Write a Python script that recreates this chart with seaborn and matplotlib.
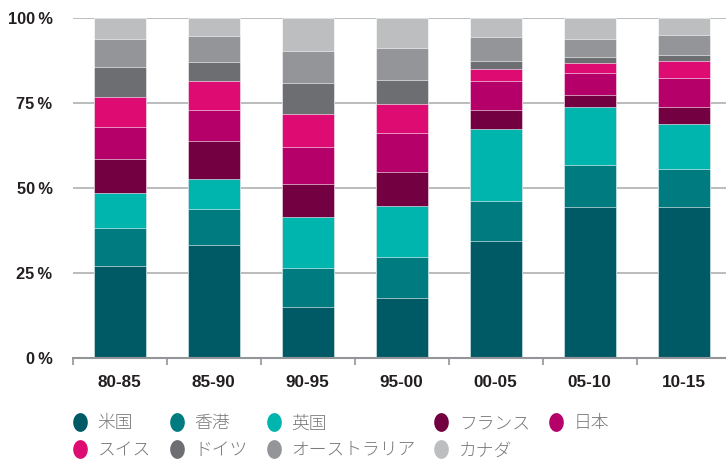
import numpy as np
import pandas as pd
import matplotlib
matplotlib.use("Agg")
import matplotlib.pyplot as plt
from matplotlib.lines import Line2D
from matplotlib.path import Path
from matplotlib.ticker import FixedLocator, FuncFormatter
import seaborn as sns

# Periods and countries
periods = ["80-85", "85-90", "90-95", "95-00", "00-05", "05-10", "10-15"]
countries = ["米国", "香港", "英国", "フランス", "日本", "スイス", "ドイツ", "オーストラリア", "カナダ"]

# Share of each country per period (%), stacked bottom to top in country order
us = [27.2, 33.4, 15.2, 17.8, 34.4, 44.6, 44.6]
hong_kong = [11.0, 10.4, 11.4, 11.9, 11.8, 12.3, 11.2]
uk = [10.4, 8.9, 15.0, 15.1, 21.3, 17.1, 13.2]
france = [9.9, 11.3, 9.6, 10.1, 5.4, 3.5, 5.0]
japan = [9.6, 8.9, 10.9, 11.3, 8.6, 6.5, 8.5]
switzerland = [8.8, 8.6, 9.7, 8.5, 3.5, 2.8, 4.9]
germany = [8.9, 5.6, 9.1, 7.2, 2.5, 1.9, 1.9]
australia = [8.1, 7.7, 9.6, 9.4, 7.1, 5.3, 5.9]
canada = [6.1, 5.2, 9.5, 8.7, 5.4, 6.0, 4.8]

y_ticks = [0, 25, 50, 75, 100]

colors = ["#005a66", "#007b80", "#00b5ad", "#730040", "#b5006a",
          "#de0b72", "#6d6e71", "#939598", "#bcbec0"]

series = [us, hong_kong, uk, france, japan, switzerland, germany, australia, canada]
df = pd.DataFrame(
    [(p, c, v[i]) for c, v in zip(countries, series) for i, p in enumerate(periods)],
    columns=["period", "country", "share"],
)
df["country"] = pd.Categorical(df["country"], categories=countries, ordered=True)
df = df.sort_values(["period", "country"])
df["cum"] = df.groupby("period", observed=True)["share"].cumsum()

sns.set_theme(style="white")
plt.rcParams["font.family"] = ["Liberation Sans", "Noto Sans CJK JP", "DejaVu Sans"]

fig = plt.figure(figsize=(7.26, 4.61), dpi=100)
ax = fig.add_axes([0.1, 0.2228, 0.9, 0.7375])

# Draw cumulative totals from the top layer down so each layer covers the previous
for country, color in reversed(list(zip(countries, colors))):
    sub = df[df["country"] == country]
    sns.barplot(data=sub, x="period", y="cum", order=periods, color=color,
                saturation=1, width=0.555, errorbar=None,
                edgecolor="white", linewidth=0.4, ax=ax)

ax.set_ylim(0, 100)
ax.set_xlim(-0.5, 6.45)
ax.set_xlabel("")
ax.set_ylabel("")
ax.yaxis.set_major_locator(FixedLocator(y_ticks))
ax.yaxis.set_major_formatter(FuncFormatter(lambda v, _: f"{v:.0f}\u2009%"))
ax.set_axisbelow(True)
ax.yaxis.grid(True, color="#a7a9ac", linewidth=1.1)
ax.xaxis.grid(False)
for side in ("left", "top", "right"):
    ax.spines[side].set_visible(False)
ax.spines["bottom"].set_color("#939598")
ax.spines["bottom"].set_linewidth(1.5)

ax.xaxis.set_minor_locator(FixedLocator(np.arange(-0.5, 7.0, 1.0)))
ax.tick_params(axis="x", which="minor", length=5, width=1.2, color="#939598",
               direction="out", bottom=True)
ax.tick_params(axis="x", which="major", length=0, pad=12)
ax.tick_params(axis="y", which="major", length=0, pad=14.5)
for lab in ax.get_xticklabels():
    lab.set_fontsize(12.3)
    lab.set_fontweight("bold")
    lab.set_color("#231f20")
for lab in ax.get_yticklabels():
    lab.set_fontsize(11.8)
    lab.set_fontweight("bold")
    lab.set_color("#231f20")

# Slightly upright oval markers for the legend
theta = np.linspace(0, 2 * np.pi, 60)
oval = Path(np.column_stack([0.76 * np.cos(theta), np.sin(theta)]), closed=True)

handles = {c: Line2D([], [], linestyle="none", marker=oval, markersize=12.5,
                     markerfacecolor=col, markeredgecolor=col, label=c)
           for c, col in zip(countries, colors)}
legend_order = ["米国", "スイス", "香港", "ドイツ", "英国", "オーストラリア",
                "フランス", "カナダ", "日本"]
leg = fig.legend(handles=[handles[c] for c in legend_order], ncol=5,
                 loc="lower left", bbox_to_anchor=(0.0856, -0.0195),
                 frameon=False, handlelength=0.8, handletextpad=0.6,
                 columnspacing=1.05, labelspacing=0.5, borderpad=0.1,
                 prop={"family": ["Noto Sans CJK JP", "DejaVu Sans"], "size": 12.8,
                       "weight": "light"})
for t in leg.get_texts():
    t.set_color("#77787b")

fig.savefig("out.png", dpi=100)
